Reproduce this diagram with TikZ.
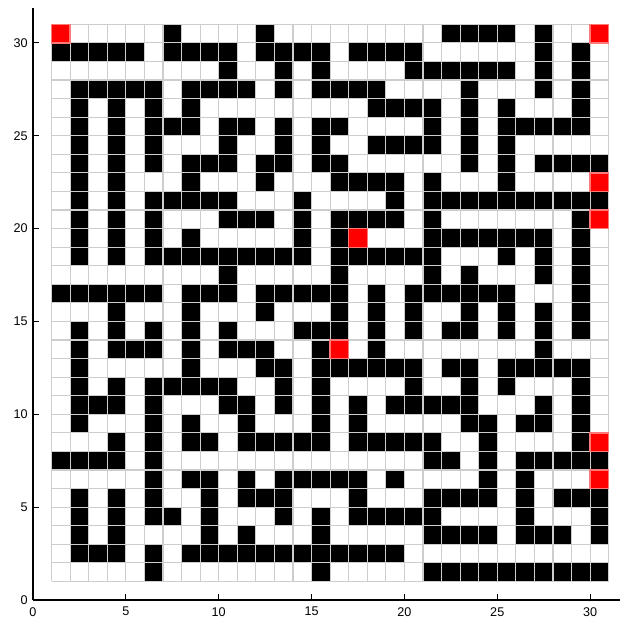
\documentclass[tikz,border=0pt]{standalone}
\usepackage{fontspec}
\setmainfont{Liberation Sans}
\definecolor{gris}{RGB}{205,205,205}
\definecolor{rojoborde}{RGB}{255,120,120}
\begin{document}
\begin{tikzpicture}[
    x=0.3cm, y=0.3cm,
    muro/.style={
        fill=black
    },
    rejilla/.style={
        draw=gris,
        line width=0.5pt
    },
    meta/.style={
        fill=red,
        draw=rojoborde,
        line width=0.6pt
    },
    eje/.style={
        draw=black,
        line width=0.5pt
    },
    numero/.style={
        font=\fontsize{5.8}{6}\selectfont,
        text=black,
        inner sep=1pt
    }
]
\useasboundingbox (-1.777,-1.131) rectangle (31.66,32.31);

% Celdas negras
\foreach \fila/\cols in {
    30/{7,12,22,23,24,25,27},
    29/{1,2,3,4,5,7,8,9,10,12,13,14,15,17,18,19,20,27,29},
    28/{10,13,15,20,21,22,23,24,25,27,29},
    27/{2,3,4,5,6,8,9,10,11,13,15,16,17,18,23,27,29},
    26/{2,4,6,8,18,19,20,21,23,25,29},
    25/{2,4,6,7,8,10,11,13,15,16,21,23,25,26,27,28,29},
    24/{2,4,6,10,13,15,18,19,20,21,23,25},
    23/{2,4,6,8,9,10,12,13,15,16,23,25,27,28,29,30},
    22/{2,4,8,12,16,17,18,19,21,25},
    21/{2,4,6,7,8,9,10,14,19,21,22,23,24,25,26,27,28,29,30},
    20/{2,4,6,10,11,12,14,16,17,18,19,21,29},
    19/{2,4,6,8,14,16,21,22,23,24,25,26,27,29},
    18/{2,4,6,7,8,9,10,11,12,13,14,16,17,18,19,20,21,25,27,29},
    17/{10,16,21,23,27,29},
    16/{1,2,3,4,5,6,8,9,10,12,13,14,15,16,18,20,21,22,23,24,25,29},
    15/{4,8,12,16,18,20,23,25,27,29},
    14/{2,4,6,8,10,14,15,16,18,20,22,23,25,27,29},
    13/{2,4,5,6,8,10,11,12,15,18,27},
    12/{2,8,12,13,15,16,17,18,19,20,22,23,25,26,27,28,29},
    11/{2,4,6,7,8,9,10,13,15,20,23,25,29},
    10/{2,3,4,6,10,11,13,15,17,19,20,21,22,23,27,29},
    9/{2,6,8,11,15,17,23,24,26,27,29},
    8/{4,6,8,9,11,12,13,14,15,17,18,19,20,21,24,29},
    7/{1,2,3,4,6,21,22,24,26,27,28,29,30},
    6/{6,8,9,11,13,14,15,16,17,19,24,26},
    5/{2,4,6,9,11,12,13,17,21,22,23,24,26,28,29,30},
    4/{2,4,6,7,9,13,15,17,18,19,20,21,26,30},
    3/{2,4,9,11,15,21,22,23,24,26,27,28,30},
    2/{2,3,4,6,8,9,10,11,12,13,14,15,16,17,18,19},
    1/{6,15,21,22,23,24,25,26,27,28,29,30}}
    \foreach \col in \cols
        \fill[muro] (\col,\fila) rectangle ++(1,1);

% Rejilla
\draw[rejilla, step=1] (1,1) grid (31,31);

% Celdas rojas
\foreach \col/\fila in {1/30,30/30,30/22,30/20,17/19,16/13,30/8,30/6}
    \filldraw[meta] (\col,\fila) rectangle ++(1,1);

% Ejes
\coordinate (origen) at (0,0);
\coordinate (finx) at (31.6,0);
\coordinate (finy) at (0,31.9);
\draw[eje] (origen) -- (finx);
\draw[eje] (origen) -- (finy);

% Marcas y números
\foreach \t in {0,5,...,30} {
    \draw[eje] (\t,0) -- (\t,0.3);
    \draw[eje] (0,\t) -- (0.3,\t);
    \node[numero, below] (nx\t) at (\t,-0.25) {\t};
    \node[numero, left] (ny\t) at (-0.15,\t) {\t};
}

\end{tikzpicture}
\end{document}
